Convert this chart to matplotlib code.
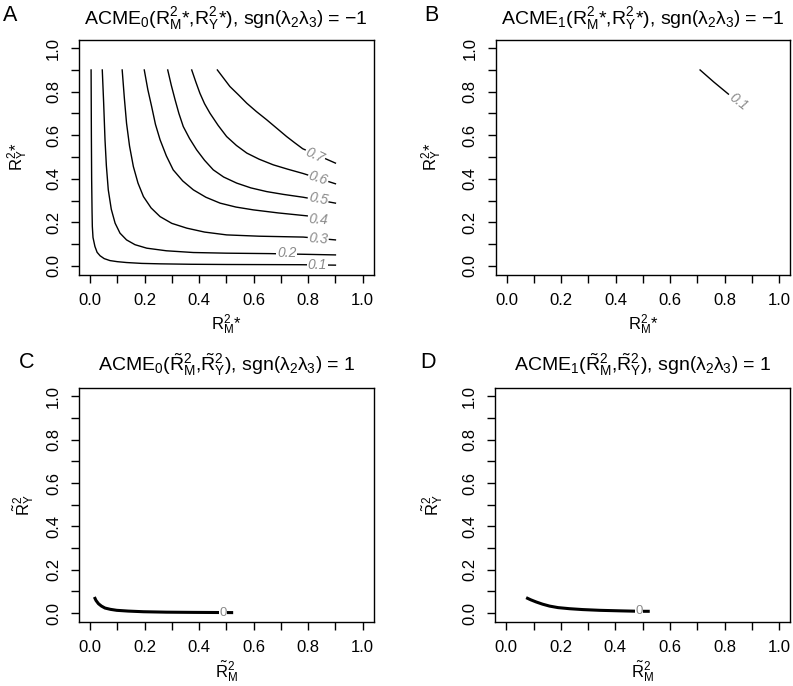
import numpy as np
import matplotlib
matplotlib.use("Agg")
import matplotlib.pyplot as plt

plt.rcParams['font.family'] = ['Liberation Sans', 'DejaVu Sans']
plt.rcParams['mathtext.fontset'] = 'custom'
plt.rcParams['mathtext.rm'] = 'Liberation Sans'
plt.rcParams['mathtext.it'] = 'Liberation Sans'
plt.rcParams['mathtext.sf'] = 'Liberation Sans'
plt.rcParams['mathtext.bf'] = 'Liberation Sans:bold'

# ---------------- data ----------------
# Panel A contour lines, levels 0.1 .. 0.7 (x = R2M*, y = R2Y*)
a01_x = [0.004, 0.005, 0.006, 0.0075, 0.0085, 0.011, 0.018, 0.026, 0.037, 0.052, 0.073, 0.10,
         0.134, 0.19, 0.257, 0.37, 0.501, 0.77, 0.90]
a01_y = [0.900, 0.60, 0.40, 0.25, 0.181, 0.13, 0.089, 0.062, 0.046, 0.033, 0.024, 0.019,
         0.015, 0.011, 0.009, 0.007, 0.006, 0.005, 0.003]
a02_x = [0.045, 0.050, 0.055, 0.060, 0.067, 0.078, 0.092, 0.110, 0.134, 0.165, 0.208, 0.28,
         0.379, 0.50, 0.66, 0.90]
a02_y = [0.900, 0.75, 0.579, 0.46, 0.349, 0.26, 0.196, 0.150, 0.119, 0.097, 0.081, 0.069,
         0.061, 0.058, 0.056, 0.050]
a03_x = [0.118, 0.126, 0.134, 0.145, 0.159, 0.176, 0.196, 0.224, 0.257, 0.30, 0.355, 0.42,
         0.501, 0.62, 0.782, 0.90]
a03_y = [0.900, 0.77, 0.655, 0.55, 0.456, 0.38, 0.318, 0.266, 0.226, 0.195, 0.173, 0.155,
         0.142, 0.136, 0.132, 0.119]
a04_x = [0.199, 0.212, 0.226, 0.240, 0.257, 0.280, 0.305, 0.340, 0.379, 0.425, 0.477, 0.535,
         0.599, 0.69, 0.80]
a04_y = [0.900, 0.81, 0.732, 0.65, 0.579, 0.505, 0.441, 0.390, 0.349, 0.315, 0.288, 0.270,
         0.257, 0.243, 0.229]
a05_x = [0.285, 0.298, 0.312, 0.326, 0.342, 0.365, 0.391, 0.420, 0.452, 0.490, 0.538, 0.590,
         0.648, 0.710, 0.782, 0.90]
a05_y = [0.900, 0.83, 0.763, 0.70, 0.640, 0.585, 0.533, 0.485, 0.441, 0.408, 0.380, 0.358,
         0.341, 0.328, 0.315, 0.288]
a06_x = [0.373, 0.388, 0.403, 0.420, 0.440, 0.470, 0.501, 0.537, 0.575, 0.620, 0.672, 0.725,
         0.782, 0.90]
a06_y = [0.900, 0.845, 0.793, 0.745, 0.701, 0.645, 0.594, 0.553, 0.518, 0.490, 0.464, 0.444,
         0.424, 0.377]
a07_x = [0.467, 0.490, 0.513, 0.545, 0.575, 0.610, 0.648, 0.685, 0.721, 0.750, 0.780, 0.90]
a07_y = [0.900, 0.862, 0.824, 0.785, 0.747, 0.709, 0.671, 0.632, 0.594, 0.566, 0.538, 0.472]
a_levels = ["0.1", "0.2", "0.3", "0.4", "0.5", "0.6", "0.7"]
a_lab_x = [0.834, 0.721, 0.837, 0.837, 0.837, 0.837, 0.825]
a_lab_y = [0.003, 0.058, 0.126, 0.214, 0.306, 0.402, 0.508]
a_lab_rot = [0, 0, -5, -4, -11, -18, -25]

# Panel B contour line, level 0.1
b01_x = [0.710, 0.760, 0.814]
b01_y = [0.900, 0.845, 0.789]
b_levels = ["0.1"]
b_lab_x = [0.852]
b_lab_y = [0.752]
b_lab_rot = [-38]

# Panel C contour line, level 0
c0_x = [0.016, 0.022, 0.031, 0.042, 0.055, 0.075, 0.098, 0.14, 0.196, 0.28, 0.38, 0.525]
c0_y = [0.074, 0.058, 0.043, 0.032, 0.023, 0.017, 0.0125, 0.009, 0.006, 0.004, 0.003, 0.002]
# Panel D contour line, level 0
d0_x = [0.073, 0.090, 0.110, 0.133, 0.159, 0.190, 0.232, 0.280, 0.343, 0.420, 0.490, 0.526]
d0_y = [0.071, 0.061, 0.051, 0.041, 0.032, 0.025, 0.020, 0.016, 0.0125, 0.010, 0.008, 0.008]
cd_levels = ["0"]
cd_lab_x = [0.487]

ticks = [0.0, 0.1, 0.2, 0.3, 0.4, 0.5, 0.6, 0.7, 0.8, 0.9, 1.0]
tick_labels = ["0.0", "", "0.2", "", "0.4", "", "0.6", "", "0.8", "", "1.0"]

titles = [r"ACME$_0$(R$^2_\mathrm{M}$*,R$^2_\mathrm{Y}$*), sgn$\left(\lambda_2\lambda_3\right)$ = −1",
          r"ACME$_1$(R$^2_\mathrm{M}$*,R$^2_\mathrm{Y}$*), sgn$\left(\lambda_2\lambda_3\right)$ = −1",
          r"ACME$_0$($\tilde{\mathrm{R}}^2_\mathrm{M}$,$\tilde{\mathrm{R}}^2_\mathrm{Y}$), sgn$\left(\lambda_2\lambda_3\right)$ = 1",
          r"ACME$_1$($\tilde{\mathrm{R}}^2_\mathrm{M}$,$\tilde{\mathrm{R}}^2_\mathrm{Y}$), sgn$\left(\lambda_2\lambda_3\right)$ = 1"]
xlabels = [r"R$^2_\mathrm{M}$*", r"R$^2_\mathrm{M}$*", r"$\tilde{\mathrm{R}}^2_\mathrm{M}$", r"$\tilde{\mathrm{R}}^2_\mathrm{M}$"]
ylabels = [r"R$^2_\mathrm{Y}$*", r"R$^2_\mathrm{Y}$*", r"$\tilde{\mathrm{R}}^2_\mathrm{Y}$", r"$\tilde{\mathrm{R}}^2_\mathrm{Y}$"]
letters = ["A", "B", "C", "D"]

# ---------------- layout ----------------
W, H = 793, 686
fig = plt.figure(figsize=(W / 100, H / 100), dpi=100)


def rect(l, r, t, b):
    return [l / W, 1 - b / H, (r - l) / W, (b - t) / H]


rects = [rect(79.1, 373.6, 39.5, 274.5), rect(495.7, 790, 39.5, 274.5),
         rect(79.1, 373.6, 387.7, 621.7), rect(495.3, 790, 387.7, 621.7)]
ylab_px = [18, 432, 24, 433]
title_base_px = [24, 24, 370.7, 370.7]
letter_pos = [(3, 21), (424, 21), (19, 368), (420, 368)]

axes = []
for i, rc in enumerate(rects):
    ax = fig.add_axes(rc)
    ax.set_xlim(-0.04, 1.04)
    ax.set_ylim(-0.04, 1.04)
    ax.set_xticks(ticks)
    ax.set_yticks(ticks)
    ax.set_xticklabels(tick_labels, fontsize=12)
    ax.set_yticklabels(tick_labels, fontsize=12)
    for t in ax.get_yticklabels():
        t.set_rotation(90)
        t.set_va('center')
    ax.tick_params(direction='out', length=6, width=1, pad=7, color='black')
    for s in ax.spines.values():
        s.set_linewidth(1)
    ax.set_xlabel(xlabels[i], fontsize=12)
    ax.xaxis.set_label_coords(0.5, -0.215)
    ax.xaxis.label.set_va('center')
    ax.set_ylabel(ylabels[i], fontsize=12)
    x0 = rc[0] * W
    ax.yaxis.set_label_coords((ylab_px[i] - x0) / (rc[2] * W), 0.5)
    ax.yaxis.label.set_va('center')
    cx = (rc[0] + rc[2] / 2)
    fig.text(cx, 1 - title_base_px[i] / H, titles[i], ha='center', va='baseline', fontsize=14)
    fig.text(letter_pos[i][0] / W, 1 - letter_pos[i][1] / H, letters[i], ha='left', va='baseline', fontsize=15.5)
    axes.append(ax)

lab_kw = dict(color='#8a8a8a', fontsize=10, style='italic', ha='center', va='center',
              bbox=dict(facecolor='white', edgecolor='none', pad=0.6), zorder=5)

# Panel A
axA = axes[0]
for xs, ys in [(a01_x, a01_y), (a02_x, a02_y), (a03_x, a03_y), (a04_x, a04_y),
               (a05_x, a05_y), (a06_x, a06_y), (a07_x, a07_y)]:
    axA.plot(xs, ys, color='black', lw=1.0, zorder=2)
for lv, lx, ly, lr in zip(a_levels, a_lab_x, a_lab_y, a_lab_rot):
    axA.text(lx, ly, lv, rotation=lr, rotation_mode='anchor', **lab_kw)

# Panel B
axB = axes[1]
axB.plot(b01_x, b01_y, color='black', lw=1.0, zorder=2)
for lv, lx, ly, lr in zip(b_levels, b_lab_x, b_lab_y, b_lab_rot):
    axB.text(lx, ly, lv, rotation=lr, rotation_mode='anchor', **lab_kw)

# Panels C and D
for ax, xs, ys in [(axes[2], c0_x, c0_y), (axes[3], d0_x, d0_y)]:
    ax.plot(xs, ys, color='black', lw=2.2, zorder=2, solid_capstyle='butt')
    for lv, lx in zip(cd_levels, cd_lab_x):
        ly = np.interp(lx, xs, ys)
        ax.text(lx, ly, lv, color='#8a8a8a', fontsize=9.5, ha='center', va='center',
                bbox=dict(facecolor='white', edgecolor='none', pad=0.2), zorder=5)

fig.savefig("out.png", dpi=100)
